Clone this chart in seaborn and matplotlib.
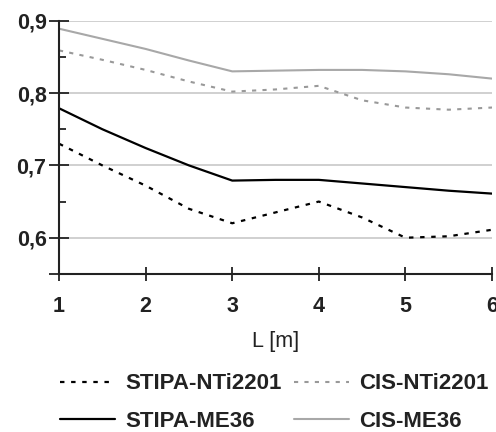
import pandas as pd
import matplotlib.pyplot as plt
import seaborn as sns
from matplotlib.ticker import FixedLocator

# Distance values (half-metre steps)
L_m = [1, 1.5, 2, 2.5, 3, 3.5, 4, 4.5, 5, 5.5, 6]

stipa_nti = [0.730, 0.700, 0.672, 0.640, 0.620, 0.635, 0.650, 0.628, 0.600, 0.602, 0.611]
cis_nti = [0.859, 0.846, 0.832, 0.816, 0.802, 0.805, 0.810, 0.790, 0.780, 0.777, 0.780]
stipa_me36 = [0.779, 0.750, 0.724, 0.700, 0.679, 0.680, 0.680, 0.675, 0.670, 0.665, 0.661]
cis_me36 = [0.889, 0.875, 0.861, 0.845, 0.830, 0.831, 0.832, 0.832, 0.830, 0.826, 0.820]

y_ticks = [0.55, 0.6, 0.7, 0.8, 0.9]
y_tick_labels = ['', '0,6', '0,7', '0,8', '0,9']
x_ticks = [1, 2, 3, 4, 5, 6]

sns.set_style('white')
plt.rcParams['font.family'] = ['Liberation Sans', 'DejaVu Sans']

fs = 15.5
fig = plt.figure(figsize=(4.96, 4.32), dpi=100)
ax = fig.add_axes([0.119, 0.366, 0.873, 0.586])

# Plot each series
sns.lineplot(x=L_m, y=stipa_nti, ax=ax, color='black', linewidth=1.6,
             linestyle=(0, (2, 3)), label='STIPA-NTi2201')
sns.lineplot(x=L_m, y=stipa_me36, ax=ax, color='black', linewidth=1.6,
             label='STIPA-ME36')
sns.lineplot(x=L_m, y=cis_nti, ax=ax, color='#999999', linewidth=1.5,
             linestyle=(0, (2, 3)), label='CIS-NTi2201')
sns.lineplot(x=L_m, y=cis_me36, ax=ax, color='#a8a8a8', linewidth=1.5,
             label='CIS-ME36')

ax.set_xlim(1, 6)
ax.set_ylim(0.55, 0.9)
ax.set_xticks(x_ticks)
ax.set_xticklabels([str(v) for v in x_ticks], fontsize=fs, fontweight='bold', color='#222222')
ax.set_yticks(y_ticks)
ax.set_yticklabels(y_tick_labels, fontsize=fs, fontweight='bold', color='#222222')
ax.yaxis.set_minor_locator(FixedLocator([0.65, 0.75, 0.85]))

ax.tick_params(axis='y', which='major', direction='inout', length=14, width=1.3,
               color='#222222', left=True, pad=2)
ax.tick_params(axis='x', which='major', direction='inout', length=10, width=1.3,
               color='#222222', bottom=True, pad=11)
ax.tick_params(axis='y', which='minor', direction='in', length=5, width=1.3,
               color='#222222', left=True)

ax.grid(True, axis='y', color='#c8c8c8', linewidth=1.2)
ax.set_axisbelow(True)
sns.despine(ax=ax)
for side in ['left', 'bottom']:
    ax.spines[side].set_color('#222222')
    ax.spines[side].set_linewidth(1.5)

ax.set_xlabel('L [m]', fontsize=fs, color='#222222', labelpad=10)
ax.set_ylabel('')

# Legend below the chart
ax.get_legend().remove()
handles, labels = ax.get_legend_handles_labels()
fig.legend(handles, labels, ncol=2, loc='center', bbox_to_anchor=(0.553, 0.068),
           frameon=False, handlelength=2.5, handletextpad=0.45, columnspacing=0.55,
           labelspacing=0.75, prop={'size': 16, 'weight': 'bold'}, labelcolor='#222222')

plt.savefig('out.png', dpi=100)
